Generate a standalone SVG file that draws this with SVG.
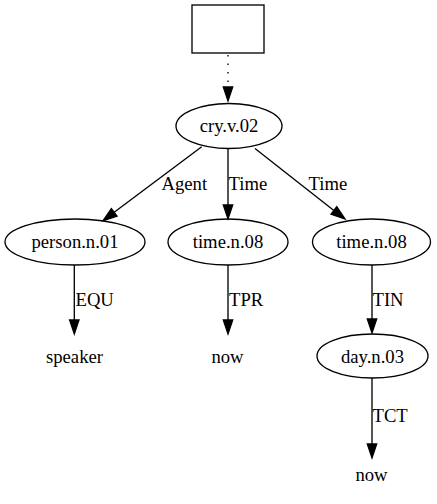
<svg xmlns="http://www.w3.org/2000/svg" width="437" height="504" viewBox="0 0 437 504" font-family="Liberation Serif" font-size="18.67">
  <defs>
    <!-- shared filled arrowhead, drawn pointing along +x with its tip at the origin -->
    <polygon id="arrow" points="-14,-4.7 -14,4.7 0,0" fill="#000" stroke="#000" stroke-width="1.33"/>
  </defs>
  <rect width="437" height="504" fill="#fff"/>

  <!-- edges -->
  <g id="edges" fill="none" stroke="#000" stroke-width="1.33">
    <!-- box -> cry.v.02 -->
    <path d="M228,55 L228,87" stroke-dasharray="1.5 7"/>
    <use href="#arrow" transform="translate(228,101) rotate(90)"/>
    <!-- cry.v.02 -> person.n.01 -->
    <path d="M201.7,146.7 L114.2,212.3"/>
    <use href="#arrow" transform="translate(103,220.7) rotate(143.1)"/>
    <!-- cry.v.02 -> time.n.08 (middle) -->
    <path d="M228,148.5 L228,205"/>
    <use href="#arrow" transform="translate(228,219) rotate(90)"/>
    <!-- cry.v.02 -> time.n.08 (right) -->
    <path d="M255,148.5 L333.9,210.5"/>
    <use href="#arrow" transform="translate(345,219) rotate(37.5)"/>
    <!-- person.n.01 -> speaker -->
    <path d="M74.3,265 L74.3,320"/>
    <use href="#arrow" transform="translate(74.3,334) rotate(90)"/>
    <!-- time.n.08 -> now -->
    <path d="M228,265 L228,320"/>
    <use href="#arrow" transform="translate(228,334) rotate(90)"/>
    <!-- time.n.08 -> day.n.03 -->
    <path d="M372,265 L372,319"/>
    <use href="#arrow" transform="translate(372,333) rotate(90)"/>
    <!-- day.n.03 -> now -->
    <path d="M372,378 L372,444"/>
    <use href="#arrow" transform="translate(372,458) rotate(90)"/>
  </g>

  <!-- edge labels -->
  <g id="edge-labels" fill="#000">
    <text x="161.5" y="190">Agent</text>
    <text x="228.5" y="190">Time</text>
    <text x="308.5" y="190">Time</text>
    <text x="75.5" y="306">EQU</text>
    <text x="229" y="306">TPR</text>
    <text x="372.5" y="306">TIN</text>
    <text x="372.5" y="421.5">TCT</text>
  </g>

  <!-- nodes -->
  <g id="node-box">
    <rect x="192" y="5" width="72" height="48" fill="none" stroke="#000" stroke-width="1.33"/>
  </g>
  <g id="node-cry">
    <ellipse cx="229" cy="126" rx="53" ry="22.5" fill="none" stroke="#000" stroke-width="1.33"/>
    <text x="229" y="132" text-anchor="middle">cry.v.02</text>
  </g>
  <g id="node-person">
    <ellipse cx="75" cy="242" rx="70" ry="23" fill="none" stroke="#000" stroke-width="1.33"/>
    <text x="75" y="248" text-anchor="middle">person.n.01</text>
  </g>
  <g id="node-time1">
    <ellipse cx="228" cy="242" rx="60" ry="23" fill="none" stroke="#000" stroke-width="1.33"/>
    <text x="228" y="248" text-anchor="middle">time.n.08</text>
  </g>
  <g id="node-time2">
    <ellipse cx="371.5" cy="242" rx="59" ry="23" fill="none" stroke="#000" stroke-width="1.33"/>
    <text x="371.5" y="248" text-anchor="middle">time.n.08</text>
  </g>
  <g id="node-speaker">
    <text x="74.5" y="363" text-anchor="middle">speaker</text>
  </g>
  <g id="node-now1">
    <text x="227.5" y="363" text-anchor="middle">now</text>
  </g>
  <g id="node-day">
    <ellipse cx="372.5" cy="356" rx="55.5" ry="22" fill="none" stroke="#000" stroke-width="1.33"/>
    <text x="372.5" y="362.5" text-anchor="middle">day.n.03</text>
  </g>
  <g id="node-now2">
    <text x="371.5" y="481" text-anchor="middle">now</text>
  </g>
</svg>
